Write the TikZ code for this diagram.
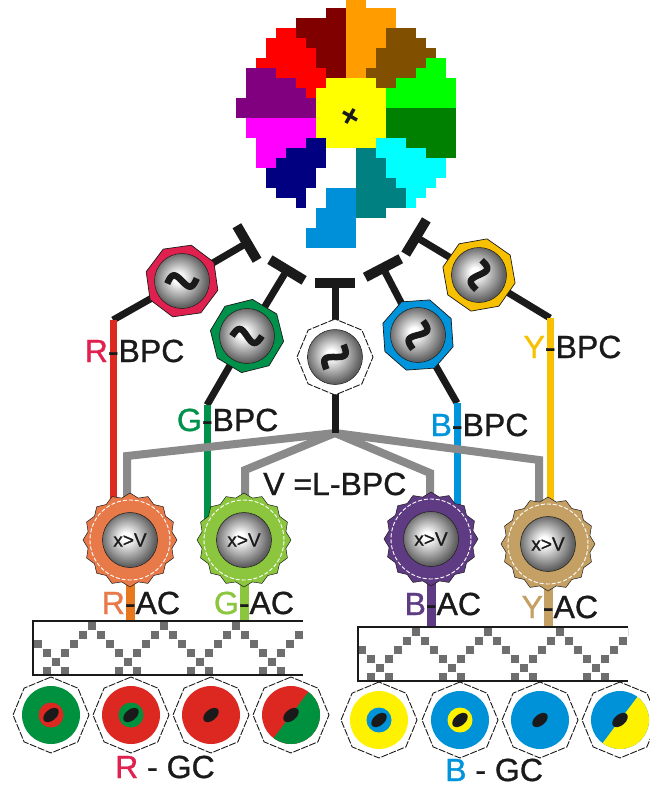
\documentclass[tikz,border=0pt]{standalone}
\usepackage{fontspec}
\setmainfont{Liberation Sans}
\newfontfamily\labfont{Liberation Sans}[FakeBold=1]
\usetikzlibrary{shapes.geometric,calc}
\pgfdeclarelayer{back}
\pgfsetlayers{back,main}

\definecolor{ink}{HTML}{1A1A1A}
\definecolor{wire}{HTML}{8A8A8A}
\definecolor{tile}{HTML}{6E6E6E}
\definecolor{orbEdge}{HTML}{606060}
\definecolor{cR}{HTML}{E0214F}
\definecolor{cRline}{HTML}{DC2A20}
\definecolor{cG}{HTML}{00914A}
\definecolor{cB}{HTML}{0094DC}
\definecolor{cY}{HTML}{F7C000}
\definecolor{acR}{HTML}{E87949}
\definecolor{acRstem}{HTML}{E8781E}
\definecolor{acG}{HTML}{8CC63F}
\definecolor{acB}{HTML}{5F3B84}
\definecolor{acY}{HTML}{C4A064}
\definecolor{gcR}{HTML}{DC2820}
\definecolor{gcG}{HTML}{00913F}
\definecolor{gcB}{HTML}{0092D8}
\definecolor{gcY}{HTML}{FFF200}
% receptive-field mosaic
\definecolor{fOrange}{HTML}{FF9C00}
\definecolor{fBrown}{HTML}{805000}
\definecolor{fLime}{HTML}{00FF00}
\definecolor{fDkGreen}{HTML}{008000}
\definecolor{fMaroon}{HTML}{800000}
\definecolor{fYellow}{HTML}{FFFF00}
\definecolor{fCyan}{HTML}{00FFFF}
\definecolor{fRed}{HTML}{FF0000}
\definecolor{fTeal}{HTML}{008080}
\definecolor{fPurple}{HTML}{800080}
\definecolor{fMagenta}{HTML}{FF00FF}
\definecolor{fNavy}{HTML}{000080}
\definecolor{fBlue}{HTML}{0090DA}

\pgfdeclareradialshading{orbshade}{\pgfpoint{-4bp}{3bp}}{color(0bp)=(white); color(4bp)=(white); color(25bp)=(orbEdge); color(50bp)=(orbEdge)}

\tikzset{
  orb/.style={circle, minimum size=55pt, inner sep=0pt, shading=orbshade, draw=ink, line width=0.5pt},
  bpcring/.style={regular polygon, regular polygon sides=8, minimum size=74pt, inner sep=0pt, fill=#1, draw=ink, line width=0.7pt},
  shell/.style={regular polygon, regular polygon sides=8, shape border rotate=22.5, minimum size=#1, inner sep=0pt, fill=white, draw=ink, line width=0.9pt, dash pattern=on 7pt off 1.5pt},
  acstar/.style={star, star points=16, star point ratio=1.1, minimum size=94pt, inner sep=0pt, fill=#1, draw=ink, line width=0.5pt},
  acbody/.style={circle, minimum size=83pt, inner sep=0pt, fill=#1},
  acdash/.style={circle, minimum size=80pt, inner sep=0pt, draw=white, line width=0.9pt, dash pattern=on 4pt off 2pt},
  soma/.style={circle, minimum size=#1, inner sep=0pt},
  axon/.style={draw=ink, line width=7pt},
  tcross/.style={draw=ink, line width=10pt},
  vline/.style={draw=#1, line width=7pt},
  stem/.style={draw=#1, line width=9pt},
  grayw/.style={draw=wire, line width=8pt},
  lab/.style={anchor=base west, inner sep=0pt, text depth=0pt, text=ink, font=\labfont\fontsize{32}{32}\selectfont},
  orbtext/.style={text=ink, font=\labfont\fontsize{19}{19}\selectfont},
  squig/.pic={\draw[ink, line width=6.5pt] plot[domain=-1:1, samples=25, smooth] (\x*15, {7*sin(\x*180)});},
  boxline/.style={draw=ink, line width=2pt},
}

\begin{document}
\begin{tikzpicture}[x=1pt,y=-1pt]
\useasboundingbox (0,0) rectangle (650,787);

% ---- mosaic of receptive fields: twelve 30-degree sectors round a yellow centre,
%      built from square blocks; the light-blue sector is pulled out downwards ----
\foreach \X in {236,246,...,466}{
  \foreach \Y in {-2,8,...,228}{
    \pgfmathsetmacro\dx{\X+5-350}
    \pgfmathsetmacro\dy{\Y+5-113}
    \pgfmathsetmacro\R{veclen(\dx,\dy)}
    \ifdim\R pt<38pt
      \fill[fill=fYellow] (\X,\Y) rectangle ++(10.4,10.4);
    \else
      \pgfmathsetmacro\T{atan2(-\dy,\dx)}
      \pgfmathtruncatemacro\K{mod(floor((93-\T)/30)+12,12)}
      \ifcase\K \def\fc{fOrange}\def\ro{111}\or\def\fc{fBrown}\def\ro{101}\or
        \def\fc{fLime}\def\ro{108}\or\def\fc{fDkGreen}\def\ro{110}\or
        \def\fc{fCyan}\def\ro{111}\or\def\fc{fTeal}\def\ro{105}\or
        \def\fc{fBlue}\def\ro{100}\or\def\fc{fNavy}\def\ro{107}\or
        \def\fc{fMagenta}\def\ro{103}\or\def\fc{fPurple}\def\ro{110}\or
        \def\fc{fRed}\def\ro{106}\or\def\fc{fMaroon}\def\ro{103}\fi
      \ifdim\R pt<\ro pt
        \ifnum\K=6
          \fill[fill=fBlue] (\X,\Y+40) rectangle ++(10.4,10.4);
        \else
          \fill[fill=\fc] (\X,\Y) rectangle ++(10.4,10.4);
        \fi
      \fi
    \fi
  }
}
\draw[ink, line width=3.5pt] (343,112) -- (357,120) (354,109) -- (346,123);

% ---- bipolar cells ----
\node[bpcring=cR, rotate=8] (rRing) at (182,281) {};
\node[orb] (rBall) at (182,281) {};
\pic[rotate=10] at (182,281) {squig};

\node[bpcring=cG, rotate=14] (gRing) at (247,336) {};
\node[orb] (gBall) at (247,336) {};
\pic[rotate=0] at (247,336) {squig};

\node[shell=76pt] (vRing) at (335,357) {};
\node[orb] (vBall) at (335,357) {};
\pic[rotate=55] at (335,357) {squig};

\node[bpcring=cB, rotate=4] (bRing) at (418,335) {};
\node[orb] (bBall) at (418,335) {};
\pic[rotate=70] at (418,335) {squig};

\node[bpcring=cY, rotate=10] (yRing) at (479,275) {};
\node[orb] (yBall) at (479,275) {};
\pic[rotate=80] at (479,275) {squig};

% synapse and branch points
\coordinate (rT) at (247,243);
\coordinate (gT) at (287,270);
\coordinate (vT) at (335,283);
\coordinate (bT) at (383,268);
\coordinate (yT) at (416,237);
\coordinate (rLow) at (113,320);
\coordinate (gLow) at (207,405);
\coordinate (hub) at (335,433);
\coordinate (bLow) at (457,403);
\coordinate (yLow) at (550,318);
\coordinate (wR) at (127,456);
\coordinate (wG) at (245,470);
\coordinate (wB) at (430,473);
\coordinate (wY) at (539,460);
\coordinate (boxL) at (33,621);
\coordinate (boxR) at (358,627);

% ---- amacrine cells ----
\foreach \n/\px/\py/\col in {rAC/130/540/acR, gAC/244/540/acG, bAC/431/539/acB, yAC/548/544/acY}{
  \node[acstar=\col] (\n-star) at (\px,\py) {};
  \node[acbody=\col] (\n-body) at (\px,\py) {};
  \node[acdash] (\n-dash) at (\px,\py) {};
  \node[orb, orbtext] (\n) at (\px,\py) {x>V};
}

% ---- wiring, kept underneath the cells ----
\begin{pgfonlayer}{back}
  \foreach \c/\t in {rBall/rT, gBall/gT, vBall/vT, bBall/bT, yBall/yT}{
    \draw[axon] (\c.center) -- (\t);
    \draw[tcross] ($(\t)!20pt!90:(\c.center)$) -- ($(\t)!20pt!-90:(\c.center)$);
  }
  \draw[axon] (rBall.center) -- (rLow);
  \draw[axon] (gBall.center) -- (gLow);
  \draw[axon] (bBall.center) -- (bLow);
  \draw[axon] (yBall.center) -- (yLow);
  \draw[vline=cRline] (rLow) -- (rLow |- rAC.center);
  \draw[vline=cG] (gLow) -- (gLow |- gAC.center);
  \draw[vline=cB] (bLow) -- (bLow |- bAC.center);
  \draw[vline=cY] (yLow) -- (yLow |- yAC.center);
  \draw[grayw] (hub) -- (wR) -- (wR |- rAC.center);
  \draw[grayw] (hub) -- (wG) -- (wG |- gAC.center);
  \draw[grayw] (hub) -- (wB) -- (wB |- bAC.center);
  \draw[grayw] (hub) -- (wY) -- (wY |- yAC.center);
  \draw[axon] (vBall.center) -- (hub);
  \draw[stem=acRstem] (rAC.center) -- (rAC.center |- boxL);
  \draw[stem=acG] (gAC.center) -- (gAC.center |- boxL);
  \draw[stem=acB] (bAC.center) -- (bAC.center |- boxR);
  \draw[stem=acY] (yAC.center) -- (yAC.center |- boxR);
\end{pgfonlayer}

% ---- labels ----
\node[lab] (lRB) at (84.6,362) {\textcolor{cR}{R}-BPC};
\node[lab] (lGB) at (176.8,431) {\textcolor{cG}{G}-BPC};
\node[lab] (lBB) at (430.4,436) {\textcolor{cB}{B}-BPC};
\node[lab] (lYB) at (523.4,358) {\textcolor{cY}{Y}-BPC};
\node[lab] (lV) at (263,495) {V =L-BPC};
\node[lab] (lRA) at (101.6,614) {\textcolor{acR}{R}-AC};
\node[lab] (lGA) at (213.8,614) {\textcolor{acG}{G}-AC};
\node[lab] (lBA) at (404.4,615) {\textcolor{acB}{B}-AC};
\node[lab] (lYA) at (521.4,618) {\textcolor{acY}{Y}-AC};
\node[lab] (lRG) at (115,778) {\textcolor{cR}{R} - GC};
\node[lab] (lBG) at (445,781) {\textcolor{cB}{B} - GC};

% ---- inner plexiform bands with crossing dendrites ----
\begin{scope}
  \clip (34,621) rectangle (303,675);
  \foreach \a in {20,92,164,236,308}{
    \foreach \k in {0,...,5}{
      \fill[tile] (\a+9*\k-4,621.5+9*\k) rectangle ++(8,8);
      \fill[tile] (\a-9*\k-4,621.5+9*\k) rectangle ++(8,8);
    }
  }
\end{scope}
\draw[boxline] (303,621) -- (33,621) -- (33,675) -- (303,675);
\begin{scope}
  \clip (359,627) rectangle (628,681);
  \foreach \a in {344,416,488,560,632}{
    \foreach \k in {0,...,5}{
      \fill[tile] (\a+9*\k-4,627.5+9*\k) rectangle ++(8,8);
      \fill[tile] (\a-9*\k-4,627.5+9*\k) rectangle ++(8,8);
    }
  }
\end{scope}
\draw[boxline] (628,627) -- (358,627) -- (358,681) -- (628,681);

% ---- ganglion cells ----
\foreach \n/\px/\py/\outc/\inc in {1/51/715/gcG/gcR, 2/131/715/gcR/gcG, 3/211/715/gcR/gcR, 4/291/715/gcR/gcR,
                                   5/379/720/gcY/gcB, 6/460/720/gcB/gcY, 7/540/720/gcB/gcB, 8/620/720/gcB/gcB}{
  \node[shell=76pt] (gc\n) at (\px,\py) {};
  \node[soma=58pt, fill=\outc] (gc\n-soma) at (\px,\py) {};
  \node[soma=25pt, fill=\inc] (gc\n-core) at (\px,\py) {};
}
\begin{scope}
  \clip (291,715) circle (29pt);
  \fill[gcG, rotate around={53:(291,715)}] (251,715) rectangle (331,755);
\end{scope}
\begin{scope}
  \clip (620,720) circle (29pt);
  \fill[gcY, rotate around={53:(620,720)}] (580,720) rectangle (660,760);
\end{scope}
\foreach \n in {1,...,8}{
  \fill[ink, rotate around={40:(gc\n.center)}] (gc\n.center) ellipse (9pt and 5.5pt);
}
\end{tikzpicture}
\end{document}
